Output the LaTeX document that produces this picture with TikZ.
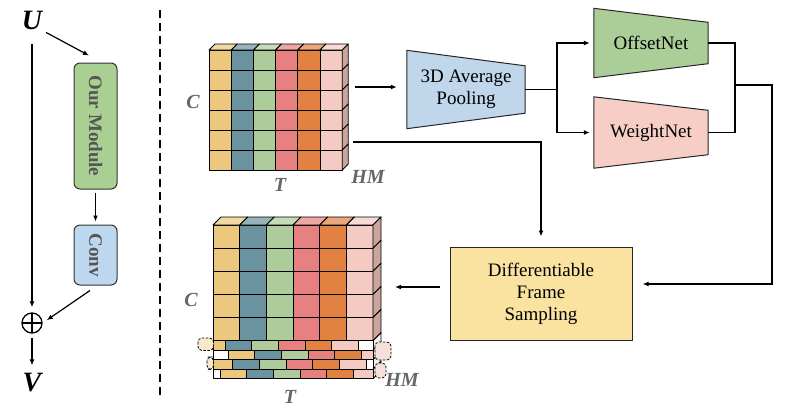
\documentclass[tikz,border=0pt]{standalone}
\usepackage{fontspec}
\setmainfont{Liberation Serif}
\usepackage{graphicx}
\usepackage{xcolor}
\usetikzlibrary{arrows.meta,calc,positioning,backgrounds}

\definecolor{cyel}{HTML}{EBC87E}
\definecolor{cteal}{HTML}{6A929F}
\definecolor{cgreen}{HTML}{AECB9B}
\definecolor{cred}{HTML}{E78181}
\definecolor{corange}{HTML}{E28242}
\definecolor{cpink}{HTML}{F3CBC2}
\definecolor{cside}{HTML}{C9A59E}
\definecolor{cmodule}{HTML}{AACF92}
\definecolor{cconv}{HTML}{BDD7EE}
\definecolor{cpool}{HTML}{C0D6EB}
\definecolor{coffset}{HTML}{ABCD98}
\definecolor{cweight}{HTML}{F7CEC6}
\definecolor{cdfs}{HTML}{FAE3A0}
\definecolor{clabel}{HTML}{666666}
\definecolor{cmodtext}{HTML}{555555}

\tikzset{
  cell/.style={draw=black, line width=0.9pt, line join=round},
  ghost/.style={draw=black, dashed, dash pattern=on 2.5pt off 1.5pt, line width=0.8pt, rounded corners=4pt},
  arr/.style={-{Latex[length=6pt,width=5pt]}, line width=1.2pt},
  line/.style={line width=1.2pt},
  modbox/.style={draw=black!80, line width=1pt, rounded corners=6pt, minimum width=43pt,
    font=\fontsize{19}{22}\selectfont\bfseries, text=cmodtext},
  trapnode/.style={inner sep=0pt, align=center},
  trapfill/.style={draw=black!85, line width=1pt},
  dfsbox/.style={draw=black!85, line width=1pt, fill=cdfs, minimum width=182pt, minimum height=93pt, align=center},
  bigvar/.style={font=\fontsize{28}{30}\selectfont\bfseries\itshape, inner sep=2pt},
  dimlabel/.style={font=\fontsize{20}{22}\selectfont\bfseries\itshape, text=clabel, inner sep=1pt},
  plus/.style={circle, draw, line width=1.3pt, minimum size=20pt, inner sep=0pt,
    path picture={\draw[line width=1.3pt] (path picture bounding box.north) -- (path picture bounding box.south)
      (path picture bounding box.west) -- (path picture bounding box.east);}},
  sep/.style={line width=1.2pt, dash pattern=on 8pt off 5pt}
}

\begin{document}
\begin{tikzpicture}[x=1pt, y=-1pt, font=\fontsize{19}{22}\selectfont]
\useasboundingbox (0,0) rectangle (786,416);

% left: residual block
\node[bigvar] (U) at (32,20) {U};
\node[modbox, fill=cmodule, minimum height=126pt] (mod) at (95.5,126) {\rotatebox{-90}{Our Module}};
\node[modbox, fill=cconv, minimum height=60pt] (conv) at (95.5,255) {\rotatebox{-90}{Conv}};
\node[plus] (plus) at (32,323) {};
\node[bigvar] (V) at (32,383) {V};

\draw[arr, shorten <=12pt, shorten >=5pt] (U.south) -- (plus.north);
\draw[arr, shorten <=2pt] (U.south east) -- ([xshift=-6.5pt, yshift=7pt]mod.north);
\draw[arr, shorten <=3pt, shorten >=3pt] (mod.south) -- (conv.north);
\draw[arr, shorten >=5pt] ([xshift=-5.5pt, yshift=-5pt]conv.south) -- (plus.east);
\draw[arr, shorten <=4pt, shorten >=6pt] (plus.south) -- (V.north);

\draw[sep] (160,10) -- (160,397);

% input clip
\foreach \c/\col in {0/cyel,1/cteal,2/cgreen,3/cred,4/corange,5/cpink}{
  \foreach \r in {0,...,5}
    \draw[cell, fill=\col] ({209+\c*22.2},{50+\r*20}) rectangle ++(22.2,20);
  \draw[cell, fill=\col!70!white] ({209+\c*22.2},50) -- ++(6,-6) -- ++(22.2,0) -- ++(-6,6) -- cycle;
}
\foreach \r in {0,...,5}
  \draw[cell, fill=cside] (342.2,{50+\r*20}) -- ++(6,-6) -- ++(0,20) -- ++(-6,6) -- cycle;

\node[dimlabel] (inC) at (193,102) {C};
\node[dimlabel] (inT) at (280,185) {T};
\node[dimlabel] (inHM) at (368,177) {HM};

% output clip
\foreach \c/\col in {0/cyel,1/cteal,2/cgreen,3/cred,4/corange,5/cpink}{
  \foreach \r in {0,...,4}
    \draw[cell, fill=\col] ({213+\c*26.67},{225+\r*23.13}) rectangle ++(26.67,23.13);
  \draw[cell, fill=\col!70!white] ({213+\c*26.67},225) -- ++(8,-8) -- ++(26.67,0) -- ++(-8,8) -- cycle;
}
\foreach \r in {0,...,4}
  \draw[cell, fill=cside] (373,{225+\r*23.13}) -- ++(8,-8) -- ++(0,23.13) -- ++(-8,8) -- cycle;

% shifted frames
\foreach \r/\xs in {0/198.3,1/228,2/206,3/220}{
  \draw[cell, fill=gray!10] (373,{340.65+\r*9.5}) -- ++(8,-8) -- ++(0,9.5) -- ++(-8,8) -- cycle;
  \begin{scope}
    \clip (213,{340.65+\r*9.5}) rectangle ++(160,9.5);
    \fill[white] (213,{340.65+\r*9.5}) rectangle ++(160,9.5);
    \foreach \c/\col in {0/cyel,1/cteal,2/cgreen,3/cred,4/corange,5/cpink}
      \draw[cell, fill=\col] ({\xs+\c*26.67},{340.65+\r*9.5}) rectangle ++(26.67,9.5);
  \end{scope}
  \draw[cell] (213,{340.65+\r*9.5}) rectangle ++(160,9.5);
}
\draw[ghost, fill=cyel!40] (198,338) rectangle (213.5,350.5);
\draw[ghost, fill=cpink!60] (375,342) rectangle (391,360);
\draw[ghost, fill=cyel!40] (207,357) rectangle (213.5,369.5);
\draw[ghost, fill=cpink!60] (375,363) rectangle (386,378);

\node[dimlabel] (outC) at (191,300) {C};
\node[dimlabel] (outT) at (290,397) {T};
\node[dimlabel] (outHM) at (402,380) {HM};

% sampler
\node[trapnode, minimum width=118pt, minimum height=47pt] (pool) at (466,89.5) {3D Average\\Pooling};
\node[trapnode, minimum width=114pt, minimum height=41pt] (offset) at (651,43) {OffsetNet};
\node[trapnode, minimum width=114pt, minimum height=44pt] (weight) at (651,132.5) {WeightNet};
\begin{scope}[on background layer]
  \foreach \n/\col/\d in {pool/cpool/15.5, offset/coffset/14, weight/cweight/13.5}
    \draw[trapfill, fill=\col] ($(\n.north west)+(0,-\d)$) -- (\n.north east)
      -- (\n.south east) -- ($(\n.south west)+(0,\d)$) -- cycle;
\end{scope}
\node[dfsbox] (dfs) at (541,293.5) {Differentiable\\Frame\\Sampling};

\coordinate (tcout) at (355,87);
\coordinate (tcdown) at (353,142);
\coordinate (split) at (557,89.5);
\coordinate (join) at (735,85);
\coordinate (turn) at (772,85);
\coordinate (bcin) at (395,287);

\draw[arr, shorten >=10pt] (tcout) -- (tcout -| pool.west);
\draw[line] (pool.east) -- (split);
\draw[arr, shorten >=4pt] (split) |- (offset.west);
\draw[arr, shorten >=4pt] (split) |- (weight.west);
\draw[line] (offset.east) -| (join);
\draw[line] (weight.east) -| (join);
\draw[arr, shorten >=10pt] (join) -- (turn) |- ([yshift=9.5pt]dfs.east);
\draw[arr, shorten >=10pt] (tcdown) -| (dfs.north);
\draw[arr, shorten <=10pt] ([yshift=6.5pt]dfs.west) -- (bcin);

\end{tikzpicture}
\end{document}
